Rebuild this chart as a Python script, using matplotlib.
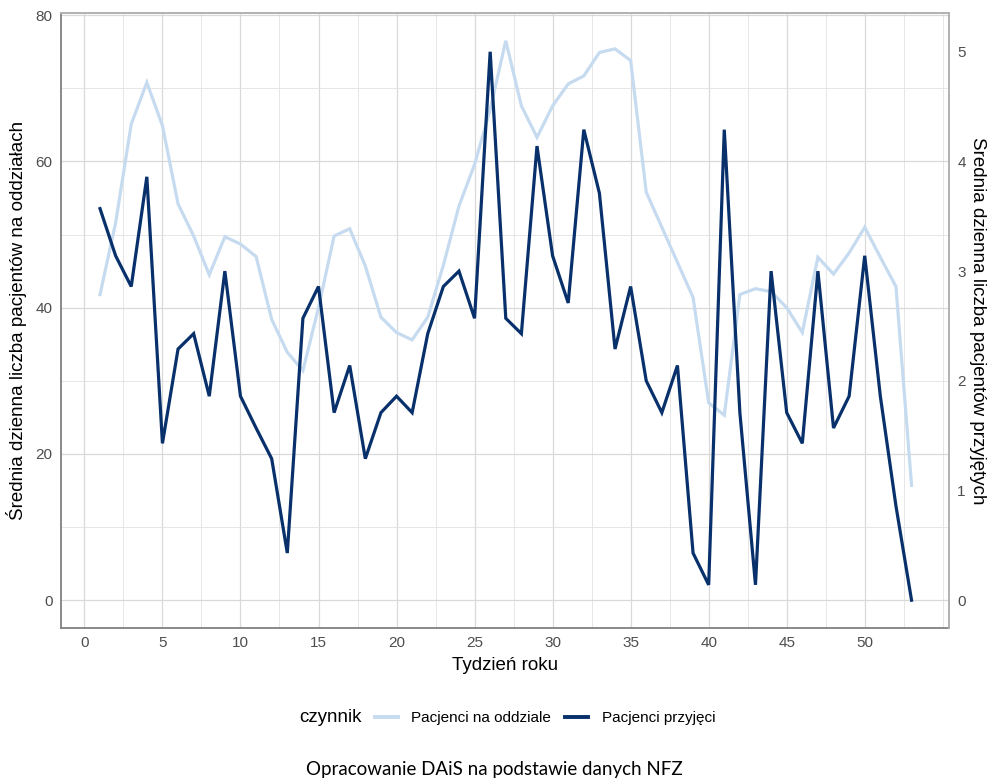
import matplotlib
matplotlib.use("Agg")
import matplotlib.pyplot as plt
from matplotlib.lines import Line2D
from matplotlib.ticker import MultipleLocator

weeks = list(range(1, 54))
na_oddziale = [41.8, 51.6, 65.1, 70.8, 64.9, 54.2, 49.8, 44.5, 49.7, 48.7,
               47.0, 38.4, 33.9, 31.4, 40.0, 49.8, 50.8, 45.7, 38.7, 36.6,
               35.6, 38.7, 45.8, 53.9, 59.6, 67.1, 76.5, 67.6, 63.3, 67.6,
               70.6, 71.7, 74.9, 75.4, 73.8, 55.8, 51.0, 46.2, 41.4, 27.0,
               25.3, 41.8, 42.6, 42.2, 40.0, 36.6, 46.9, 44.6, 47.5, 51.0,
               46.9, 42.9, 15.7]
przyjeci = [3.57, 3.14, 2.86, 3.86, 1.43, 2.29, 2.43, 1.86, 3.00, 1.86,
            1.57, 1.29, 0.43, 2.57, 2.86, 1.71, 2.14, 1.29, 1.71, 1.86,
            1.71, 2.43, 2.86, 3.00, 2.57, 5.00, 2.57, 2.43, 4.14, 3.14,
            2.71, 4.29, 3.71, 2.29, 2.86, 2.00, 1.71, 2.14, 0.43, 0.14,
            4.29, 1.71, 0.14, 3.00, 1.71, 1.43, 3.00, 1.57, 1.86, 3.14,
            1.86, 0.86, 0.00]
scale = 15
x_ticks = [0, 5, 10, 15, 20, 25, 30, 35, 40, 45, 50]
y_ticks = [0, 20, 40, 60, 80]
y2_ticks = [0, 1, 2, 3, 4, 5]
labels = ["Pacjenci na oddziale", "Pacjenci przyjęci"]
colors = ["#C6DBEF", "#08306B"]

plt.rcParams['font.family'] = ['Liberation Sans', 'DejaVu Sans']

fig = plt.figure(figsize=(9.88, 7.8), dpi=100)
ax = fig.add_axes([61/988, 1-628/780, (949-61)/988, (628-13)/780])
ax2 = ax.twinx()

ylo, yhi = -3.8, 80.3
ax.set_xlim(-1.5, 55.4)
ax.set_ylim(ylo, yhi)
ax2.set_ylim(ylo/scale, yhi/scale)

ax.plot(weeks, na_oddziale, color=colors[0], lw=2.3, solid_joinstyle='miter', zorder=3)
ax2.plot(weeks, przyjeci, color=colors[1], lw=2.3, solid_joinstyle='miter', zorder=3)

ax.set_xticks(x_ticks)
ax.set_yticks(y_ticks)
ax2.set_yticks(y2_ticks)
ax.xaxis.set_minor_locator(MultipleLocator(2.5))
ax.yaxis.set_minor_locator(MultipleLocator(10))
ax.grid(True, which='major', color='#D9D9D9', lw=0.9)
ax.grid(True, which='minor', color='#E2E2E2', lw=0.6)
ax.set_axisbelow(True)

for a in (ax, ax2):
    a.tick_params(which='both', length=0, labelsize=11, labelcolor='#4D4D4D', pad=6)
    for s in a.spines.values():
        s.set_color('#B3B3B3')
        s.set_linewidth(1.3)
ax.spines['left'].set_color('#808080')
ax.spines['bottom'].set_color('#808080')
ax2.spines['left'].set_visible(False)
ax2.spines['bottom'].set_visible(False)
ax2.tick_params(axis='y', pad=6)

ax.set_xlabel("Tydzień roku", fontsize=13.5, labelpad=5)
ax.set_ylabel("Średnia dzienna liczba pacjentów na oddziałach", fontsize=13.5, labelpad=6)
ax2.set_ylabel("Średnia dzienna liczba pacjentów przyjętych", fontsize=13.5,
               rotation=270, va='bottom', labelpad=2)

handles = [Line2D([], [], color=c, lw=2.8) for c in colors]
fig.text(330/988, 1-718/780, "czynnik", fontsize=13.5, ha='center', va='center')
fig.legend(handles, labels, loc='center left', bbox_to_anchor=(361/988, 1-718/780),
           ncol=2, frameon=False, fontsize=11, handlelength=1.5, handletextpad=0.9,
           columnspacing=0.9)
fig.text(0.5, 1-769/780, "Opracowanie DAiS na podstawie danych NFZ", fontsize=13.5,
         ha='center', va='center', family=['Lato', 'DejaVu Sans'])

fig.savefig("out.png", dpi=100)
